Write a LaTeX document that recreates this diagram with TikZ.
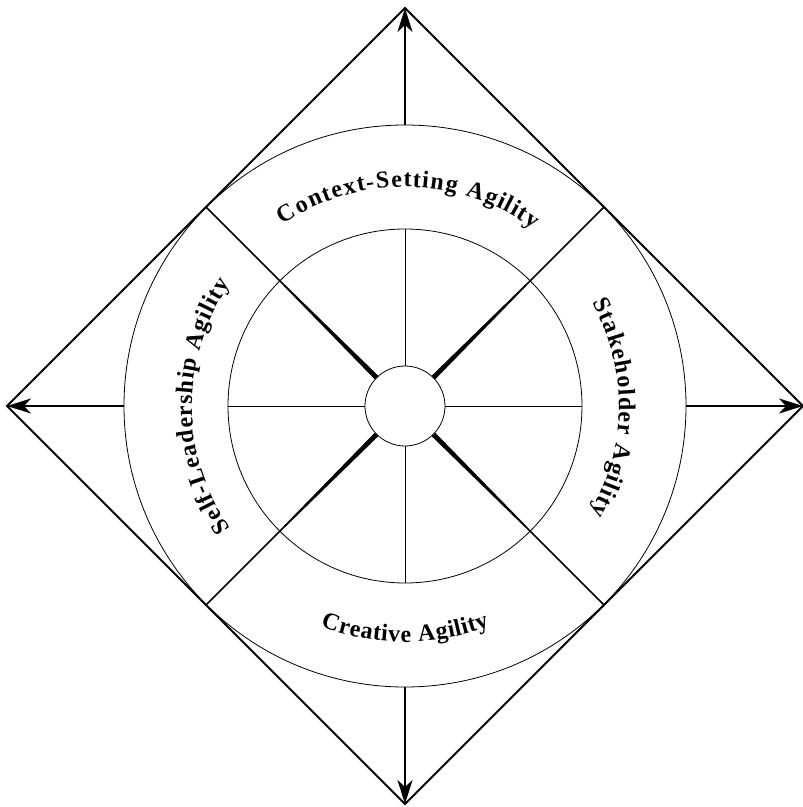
\documentclass[tikz,border=0pt]{standalone}
\usepackage{fontspec}
\newfontfamily\agilfont{Liberation Serif}
\usetikzlibrary{arrows.meta,decorations.text}
\newcommand\agil{\agilfont\bfseries\fontsize{24}{28}\selectfont}

\begin{document}
\begin{tikzpicture}[x=1pt,y=1pt,>={Stealth[length=24pt,width=15pt,inset=7pt]},
  lbl/.style={decorate,decoration={text effects along path,text={#1},
    text effects/.cd,text along path,fit text to path,characters={font=\agil}}}]
\useasboundingbox (-405,-401) rectangle (398,406);
\coordinate (n) at (0,398); \coordinate (e) at (398,0); \coordinate (s) at (0,-398); \coordinate (w) at (-398,0);
\draw[line width=2pt] (n)--(e)--(s)--(w)--cycle;
\node[circle,draw,line width=0.8pt,minimum size=562pt,inner sep=0pt] (rim) at (0,0){};
\node[circle,draw,line width=0.8pt,minimum size=354pt,inner sep=0pt] (ring) at (0,0){};
\node[circle,draw,line width=0.8pt,minimum size=80pt,inner sep=0pt] (hub) at (0,0){};
\foreach \a in {0,90,180,270} \draw[line width=0.8pt] (hub.\a)--(ring.\a);
\foreach \a in {45,135,225,315}{
  \draw[line width=1.6pt] (ring.\a)--(rim.\a);
  \fill ([shift={(\a+90:2.5)}]hub.\a)--([shift={(\a+90:0.8)}]ring.\a)--([shift={(\a-90:0.8)}]ring.\a)--([shift={(\a-90:2.5)}]hub.\a)--cycle;
}
\draw[->,line width=2.2pt] (rim.north)--(n); \draw[->,line width=2.2pt] (rim.east)--(e);
\draw[->,line width=2.2pt] (rim.south)--(s); \draw[->,line width=2.2pt] (rim.west)--(w);
\path[lbl=Context-Setting Agility] (124:219) arc[start angle=124,end angle=54,radius=219];
\path[lbl=Stakeholder Agility] (29:214) arc[start angle=29,end angle=-30,radius=214];
\path[lbl=Creative Agility] (249:236) arc[start angle=249,end angle=291,radius=236];
\path[lbl=Self-Leadership Agility] (215:213) arc[start angle=215,end angle=145,radius=213];
\end{tikzpicture}
\end{document}
